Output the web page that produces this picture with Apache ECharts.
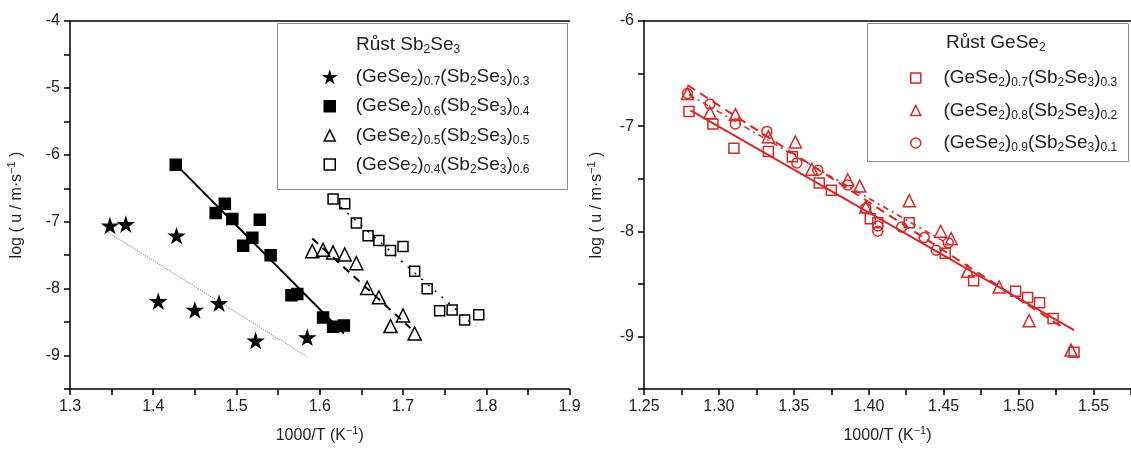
<!DOCTYPE html>
<html>
<head>
<meta charset="utf-8">
<script src="https://cdn.jsdelivr.net/npm/echarts@6/dist/echarts.min.js"></script>
<style>html,body{margin:0;padding:0;background:#fff}#c{width:1131px;height:451px}</style>
</head>
<body>
<div id="c"></div>
<script>
// ---------- Left panel: growth of Sb2Se3 ----------
const sb70x = [1.348, 1.367, 1.428, 1.406, 1.450, 1.479, 1.523, 1.585];
const sb70y = [-7.06, -7.04, -7.21, -8.19, -8.32, -8.22, -8.78, -8.73];
const sb60x = [1.427, 1.486, 1.475, 1.495, 1.528, 1.508, 1.519, 1.541, 1.566, 1.573, 1.604, 1.616, 1.629];
const sb60y = [-6.15, -6.73, -6.87, -6.96, -6.97, -7.36, -7.24, -7.50, -8.10, -8.08, -8.43, -8.57, -8.55];
const sb50x = [1.591, 1.604, 1.616, 1.630, 1.644, 1.657, 1.671, 1.700, 1.685, 1.714];
const sb50y = [-7.44, -7.42, -7.46, -7.49, -7.62, -7.99, -8.13, -8.40, -8.56, -8.67];
const sb40x = [1.616, 1.630, 1.644, 1.658, 1.671, 1.685, 1.700, 1.714, 1.729, 1.744, 1.759, 1.774, 1.791];
const sb40y = [-6.66, -6.73, -7.02, -7.21, -7.28, -7.43, -7.37, -7.74, -8.00, -8.33, -8.32, -8.47, -8.39];
// fitted lines (end points)
const fitSb70x = [1.346, 1.585], fitSb70y = [-7.16, -9.02];
const fitSb60x = [1.430, 1.629], fitSb60y = [-6.18, -8.67];
const fitSb50x = [1.591, 1.709], fitSb50y = [-7.25, -8.59];
const fitSb40x = [1.625, 1.787], fitSb40y = [-6.78, -8.57];

// ---------- Right panel: growth of GeSe2 ----------
const ge70x = [1.280, 1.296, 1.310, 1.333, 1.349, 1.367, 1.375, 1.401, 1.406, 1.427, 1.451, 1.470, 1.498, 1.506, 1.514, 1.523, 1.537];
const ge70y = [-6.86, -6.98, -7.21, -7.24, -7.29, -7.54, -7.61, -7.88, -7.92, -7.92, -8.21, -8.47, -8.57, -8.63, -8.68, -8.83, -9.15];
const ge80x = [1.279, 1.294, 1.311, 1.333, 1.351, 1.362, 1.386, 1.394, 1.398, 1.427, 1.448, 1.455, 1.466, 1.487, 1.507, 1.535];
const ge80y = [-6.69, -6.87, -6.89, -7.10, -7.15, -7.41, -7.51, -7.57, -7.77, -7.71, -8.00, -8.07, -8.38, -8.53, -8.85, -9.13];
const ge90x = [1.279, 1.294, 1.311, 1.332, 1.352, 1.366, 1.386, 1.398, 1.406, 1.406, 1.422, 1.437, 1.445, 1.453];
const ge90y = [-6.69, -6.79, -6.98, -7.05, -7.35, -7.42, -7.56, -7.78, -7.95, -8.00, -7.96, -8.06, -8.18, -8.11];
const fitGe70x = [1.281, 1.537], fitGe70y = [-6.85, -8.94];
const fitGe80x = [1.279, 1.529], fitGe80y = [-6.61, -8.91];
const fitGe90x = [1.280, 1.454], fitGe90y = [-6.70, -8.13];

// legend labels (rich text)
const leftNames = ['L07', 'L06', 'L05', 'L04'];
const rightNames = ['R07', 'R08', 'R09'];
const labels = {
  L07: '(GeSe{s|2}){s|0.7}(Sb{s|2}Se{s|3}){s|0.3}',
  L06: '(GeSe{s|2}){s|0.6}(Sb{s|2}Se{s|3}){s|0.4}',
  L05: '(GeSe{s|2}){s|0.5}(Sb{s|2}Se{s|3}){s|0.5}',
  L04: '(GeSe{s|2}){s|0.4}(Sb{s|2}Se{s|3}){s|0.6}',
  R07: '(GeSe{s|2}){s|0.7}(Sb{s|2}Se{s|3}){s|0.3}',
  R08: '(GeSe{s|2}){s|0.8}(Sb{s|2}Se{s|3}){s|0.2}',
  R09: '(GeSe{s|2}){s|0.9}(Sb{s|2}Se{s|3}){s|0.1}'
};
const leftTitle = 'Růst Sb{s|2}Se{s|3}';
const rightTitle = 'Růst GeSe{s|2}';
const xName = '1000/T (K{p|−1})';
const yName = 'log ( u / m·s{p|−1} )';

const FONT = 'Liberation Sans, Arial, sans-serif';
const RED = '#d42a2a';
const STAR = 'path://M50,0 L61,35 L98,35 L68,57 L79,91 L50,70 L21,91 L32,57 L2,35 L39,35 Z';

const pairs = (xs, ys) => xs.map((x, i) => [x, ys[i]]);
const subRich = { s: { fontSize: 12, lineHeight: 12, padding: [10, 0, 0, 0], fontFamily: FONT, color: '#222' } };
const supRich = { p: { fontSize: 11, lineHeight: 11, padding: [0, 0, 10, 0], fontFamily: FONT, color: '#222' } };

function xAxisBottom(gi, min, max, interval, dec, extra) {
  return Object.assign({
    type: 'value', gridIndex: gi, position: 'bottom', min, max, interval,
    name: xName, nameLocation: 'middle', nameGap: 36,
    nameTextStyle: { fontSize: 16, fontFamily: FONT, color: '#222', lineHeight: 21, rich: supRich },
    axisLine: { show: true, onZero: false, lineStyle: { color: '#000', width: 1.5 } },
    axisTick: { show: true, length: 6, lineStyle: { color: '#000', width: 1.5 } },
    minorTick: { show: true, splitNumber: 2, length: 6, lineStyle: { color: '#000', width: 1.5 } },
    splitLine: { show: false },
    axisLabel: { fontSize: 16, fontFamily: FONT, color: '#222', margin: 10, formatter: v => v.toFixed(dec) }
  }, extra || {});
}
function xAxisTop(gi, min, max) {
  return { type: 'value', gridIndex: gi, position: 'top', min, max,
    axisLine: { show: true, onZero: false, lineStyle: { color: '#000', width: 1.5 } },
    axisTick: { show: false }, axisLabel: { show: false }, splitLine: { show: false } };
}
function yAxisLeft(gi, min, max, gap) {
  return {
    type: 'value', gridIndex: gi, min, max, interval: 0.5,
    name: yName, nameLocation: 'middle', nameGap: gap, nameRotate: 90,
    nameTextStyle: { fontSize: 16, fontFamily: FONT, color: '#222', lineHeight: 21, rich: supRich },
    axisLine: { show: true, onZero: false, lineStyle: { color: '#000', width: 1.5 } },
    axisTick: { show: true, length: 6, lineStyle: { color: '#000', width: 1.5 } },
    splitLine: { show: false },
    axisLabel: { fontSize: 16, fontFamily: FONT, color: '#222', margin: 10,
      formatter: v => Math.abs(v - Math.round(v)) < 1e-9 ? String(Math.round(v)) : '' }
  };
}

function scatter(name, xi, yi, data, symbol, size, fill, stroke) {
  return { type: 'scatter', name, xAxisIndex: xi, yAxisIndex: yi, data, symbol, symbolSize: size, z: 3,
    symbolKeepAspect: true,
    itemStyle: { color: fill, borderColor: stroke, borderWidth: 1.5, opacity: 1 } };
}
function fitLine(xi, yi, data, color, width, type) {
  return { type: 'line', xAxisIndex: xi, yAxisIndex: yi, data, symbol: 'none', silent: true, z: 2,
    lineStyle: { color, width, type } };
}

const chart = echarts.init(document.getElementById('c'), null, { renderer: 'canvas' });
chart.setOption({
  animation: false,
  backgroundColor: '#fff',
  grid: [
    { left: 70, top: 21, width: 499.5, height: 368 },
    { left: 644, top: 21, width: 499.4, height: 368 }
  ],
  xAxis: [
    xAxisBottom(0, 1.3, 1.9, 0.1, 1),
    xAxisTop(0, 1.3, 1.9),
    xAxisBottom(1, 1.25, 1.575, 0.05, 2, { axisLabel: { fontSize: 16, fontFamily: FONT, color: '#222', margin: 10, showMaxLabel: false, formatter: v => v.toFixed(2) } }),
    xAxisTop(1, 1.25, 1.575)
  ],
  yAxis: [
    yAxisLeft(0, -9.5, -4, 43),
    yAxisLeft(1, -9.5, -6, 37)
  ],
  title: [
    { text: leftTitle, left: 356, top: 34, padding: 0,
      textStyle: { fontSize: 19, fontWeight: 'normal', fontFamily: FONT, color: '#222', lineHeight: 22, rich: subRich } },
    { text: rightTitle, left: 946, top: 32, padding: 0,
      textStyle: { fontSize: 19, fontWeight: 'normal', fontFamily: FONT, color: '#222', lineHeight: 22, rich: subRich } }
  ],
  legend: [
    { data: leftNames, orient: 'vertical', left: 323.5, top: 66, padding: 0, itemGap: 7.2,
      itemWidth: 11, itemHeight: 11, selectedMode: false,
      itemStyle: { borderWidth: 1.5, opacity: 1 },
      formatter: n => labels[n],
      textStyle: { fontSize: 19, fontFamily: FONT, color: '#222', lineHeight: 22, padding: [0, 0, 0, 15.5], rich: subRich } },
    { data: rightNames, orient: 'vertical', left: 910, top: 67, padding: 0, itemGap: 10.5,
      itemWidth: 10, itemHeight: 10, selectedMode: false,
      itemStyle: { borderWidth: 1.5, opacity: 1 },
      formatter: n => labels[n],
      textStyle: { fontSize: 19, fontFamily: FONT, color: '#222', lineHeight: 22, padding: [0, 0, 0, 17.7], rich: subRich } }
  ],
  graphic: [
    { type: 'rect', shape: { x: 277.5, y: 23.5, width: 290, height: 166 }, style: { fill: 'none', stroke: '#8a8a8a', lineWidth: 1 }, z: 0 },
    { type: 'rect', shape: { x: 867.5, y: 23.5, width: 261, height: 138 }, style: { fill: 'none', stroke: '#8a8a8a', lineWidth: 1 }, z: 0 }
  ],
  series: [
    fitLine(0, 0, pairs(fitSb70x, fitSb70y), '#9a9a9a', 1.2, 'dotted'),
    fitLine(0, 0, pairs(fitSb60x, fitSb60y), '#000', 2, 'solid'),
    fitLine(0, 0, pairs(fitSb50x, fitSb50y), '#000', 2, [8, 6]),
    fitLine(0, 0, pairs(fitSb40x, fitSb40y), '#000', 1.5, [2, 7]),
    scatter('L07', 0, 0, pairs(sb70x, sb70y), STAR, 14, '#000', '#000'),
    scatter('L06', 0, 0, pairs(sb60x, sb60y), 'rect', 11, '#000', '#000'),
    scatter('L05', 0, 0, pairs(sb50x, sb50y), 'triangle', 13, 'rgba(255,255,255,0)', '#000'),
    scatter('L04', 0, 0, pairs(sb40x, sb40y), 'rect', 10, 'rgba(255,255,255,0)', '#000'),

    fitLine(2, 1, pairs(fitGe70x, fitGe70y), RED, 2, 'solid'),
    fitLine(2, 1, pairs(fitGe80x, fitGe80y), RED, 2, [9, 6]),
    fitLine(2, 1, pairs(fitGe90x, fitGe90y), RED, 1.5, [6, 4, 2, 4]),
    scatter('R07', 2, 1, pairs(ge70x, ge70y), 'rect', 10, 'rgba(255,255,255,0)', RED),
    scatter('R08', 2, 1, pairs(ge80x, ge80y), 'triangle', 12, 'rgba(255,255,255,0)', RED),
    scatter('R09', 2, 1, pairs(ge90x, ge90y), 'circle', 10, 'rgba(255,255,255,0)', RED)
  ]
});
</script>
</body>
</html>
